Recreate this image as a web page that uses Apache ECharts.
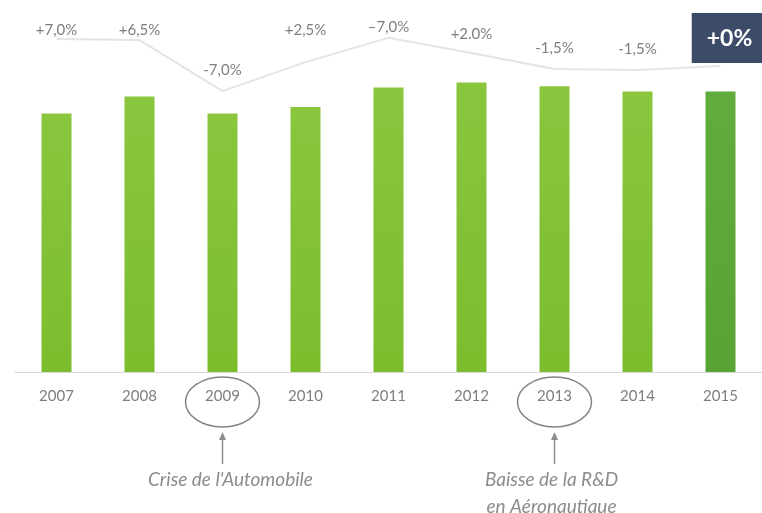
<!DOCTYPE html>
<html>
<head>
<meta charset="utf-8">
<script src="https://cdn.jsdelivr.net/npm/echarts@6/dist/echarts.min.js"></script>
<style>
  html, body { margin: 0; padding: 0; background: #ffffff; }
  #chart { width: 762px; height: 513px; }
</style>
</head>
<body>
<div id="chart"></div>
<script>
// Années
const years = ['2007', '2008', '2009', '2010', '2011', '2012', '2013', '2014', '2015'];
// Volume annuel (indice, 2007 = 100)
const volume = [100, 106.5, 100, 102.5, 110, 112, 110.5, 108.5, 108.5];
// Courbe de tendance tracée au-dessus des barres (indice)
const trend = [92.0, 91.7, 77.6, 85.6, 92.3, 88.1, 83.7, 83.4, 84.5];
// Variations annuelles affichées sur la courbe
const growthLabels = ['+7,0%', '+6,5%', '-7,0%', '+2,5%', '–7,0%', '+2.0%', '-1,5%', '-1,5%', '+0%'];
// Années commentées
const eventYears = ['2009', '2013'];
const eventTexts = [["Crise de l'Automobile"], ['Baisse de la R&D', 'en Aéronautique']];

// Mise en forme
const FONT = 'Lato, "Open Sans", sans-serif';
const labelShift = [-9, -10, -21, -32, -11, -19, -21, -21, -28];
const eventTextDx = [8, -3];

const chart = echarts.init(document.getElementById('chart'), null, { renderer: 'canvas' });

const barColor = new echarts.graphic.LinearGradient(0, 0, 0, 1, [
  { offset: 0, color: '#89c63e' },
  { offset: 1, color: '#7cbd2e' }
]);
const lastBarColor = new echarts.graphic.LinearGradient(0, 0, 0, 1, [
  { offset: 0, color: '#60ac3c' },
  { offset: 1, color: '#57a334' }
]);

const lastIdx = years.length - 1;

const trendData = trend.map((v, i) => {
  const item = {
    value: v,
    label: {
      offset: [0, labelShift[i]],
      formatter: growthLabels[i]
    }
  };
  if (i === lastIdx) {
    item.label = {
      offset: [9, labelShift[i]],
      formatter: growthLabels[i],
      color: '#ffffff',
      fontSize: 23,
      fontWeight: 'bold',
      fontFamily: FONT,
      backgroundColor: '#3c4c68',
      padding: [14, 15, 13, 15]
    };
  }
  return item;
});

chart.setOption({
  animation: false,
  backgroundColor: '#ffffff',
  grid: { left: 15, width: 750, top: 10, bottom: 141 },
  xAxis: {
    type: 'category',
    data: years,
    axisLine: { lineStyle: { color: '#d6d6d6', width: 1 } },
    axisTick: { show: false },
    axisLabel: { color: '#7e7e7e', fontSize: 15, margin: 17, fontFamily: FONT }
  },
  yAxis: [
    { type: 'value', min: 0, max: 140, show: false },
    { type: 'value', min: 0, max: 100, show: false }
  ],
  series: [
    {
      type: 'bar',
      barWidth: 30,
      data: volume.map((v, i) => ({
        value: v,
        itemStyle: { color: i === lastIdx ? lastBarColor : barColor }
      })),
      z: 2
    },
    {
      type: 'line',
      yAxisIndex: 1,
      data: trendData,
      symbol: 'circle',
      symbolSize: 1,
      itemStyle: { color: 'rgba(0,0,0,0)', borderWidth: 0 },
      lineStyle: { color: '#e4e4e4', width: 2 },
      label: {
        show: true,
        position: 'inside',
        color: '#7e7e7e',
        fontSize: 15,
        fontFamily: FONT
      },
      z: 3
    }
  ]
});

// Annotations sous l'axe : ellipse autour de l'année, flèche et commentaire
const baseY = chart.convertToPixel({ yAxisIndex: 0 }, 0);
const elements = [];
eventYears.forEach((yr, k) => {
  const x = chart.convertToPixel({ xAxisIndex: 0 }, yr);
  elements.push({
    type: 'ellipse',
    shape: { cx: x, cy: baseY + 30, rx: 37, ry: 25 },
    style: { fill: 'none', stroke: '#858585', lineWidth: 1.5 },
    z: 10
  });
  elements.push({
    type: 'line',
    shape: { x1: x, y1: baseY + 66, x2: x, y2: baseY + 92 },
    style: { stroke: '#8e8e8e', lineWidth: 1.5 },
    z: 10
  });
  elements.push({
    type: 'polygon',
    shape: { points: [[x, baseY + 60], [x - 3.5, baseY + 68], [x + 3.5, baseY + 68]] },
    style: { fill: '#8e8e8e' },
    z: 10
  });
  eventTexts[k].forEach((line, j) => {
    elements.push({
      type: 'text',
      x: x + eventTextDx[k],
      y: baseY + 108 + j * 27,
      style: {
        text: line,
        fill: '#8c8c8c',
        font: 'italic 19px ' + FONT,
        textAlign: 'center',
        textVerticalAlign: 'middle'
      },
      z: 10
    });
  });
});
chart.setOption({ graphic: { elements: elements } });
</script>
</body>
</html>
